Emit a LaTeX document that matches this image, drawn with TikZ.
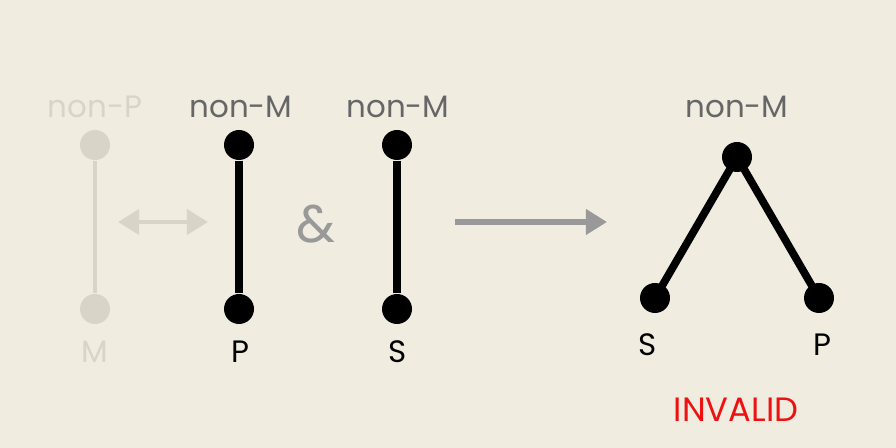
\documentclass[tikz,border=0pt]{standalone}
\usepackage{fontspec}
\setmainfont{Poppins}
\usepackage{tikz}
\definecolor{paper}{HTML}{F0ECE0}
\definecolor{faded}{HTML}{D8D4C8}
\definecolor{gray600}{HTML}{666666}
\definecolor{gray400}{HTML}{999999}
\definecolor{red500}{HTML}{EE1111}
\usetikzlibrary{arrows.meta}
\tikzstyle{vertice}=[circle, draw=none, fill=black, inner sep=0pt, minimum size=3mm]
\tikzstyle{label}=[inner sep=0pt, font=\fontsize{8.8}{11}\selectfont]

\begin{document}
\begin{tikzpicture}
	\path[fill=paper, use as bounding box] (0,0) rectangle (8.96,4.48);
	% faded premise
	\node[vertice, fill=faded] (a1) at (0.95,3.03){};
	\node[vertice, fill=faded] (a2) at (0.95,1.39){};
	\node[label, text=faded] (la1) at (0.95,3.41){non-P};
	\node[label, text=faded] (la2) at (0.95,0.96){M};
	\path[draw=faded, line width=1.4pt] (a1) -- (a2);
	\coordinate (d1) at (1.18,2.26);
	\coordinate (d2) at (2.08,2.26);
	\path[draw=faded, line width=1.4pt, {Triangle[length=6pt,width=7pt]}-{Triangle[length=6pt,width=7pt]}] (d1) -- (d2);
	% premises
	\node[vertice] (b1) at (2.39,3.03){};
	\node[vertice] (b2) at (2.39,1.39){};
	\node[label, text=gray600] (lb1) at (2.41,3.41){non-M};
	\node[label] (lb2) at (2.40,0.96){P};
	\path[draw=black, line width=2pt] (b1) -- (b2);
	\node[inner sep=0pt, text=gray400, font=\fontsize{15}{18}\selectfont] (amp) at (3.16,2.24){\&};
	\node[vertice] (c1) at (3.97,3.03){};
	\node[vertice] (c2) at (3.97,1.39){};
	\node[label, text=gray600] (lc1) at (3.98,3.41){non-M};
	\node[label] (lc2) at (3.98,0.96){S};
	\path[draw=black, line width=2pt] (c1) -- (c2);
	% conclusion
	\coordinate (e1) at (4.55,2.26);
	\coordinate (e2) at (6.07,2.26);
	\path[draw=gray400, line width=1.7pt, -{Triangle[length=6pt,width=7pt]}] (e1) -- (e2);
	\node[vertice] (t) at (7.37,2.91){};
	\node[vertice] (s) at (6.55,1.50){};
	\node[vertice] (p) at (8.19,1.50){};
	\node[label, text=gray600] (lt) at (7.37,3.41){non-M};
	\node[label] (ls) at (6.48,1.03){S};
	\node[label] (lp) at (8.22,1.03){P};
	\node[label, text=red500, font=\fontsize{9.6}{12}\selectfont] (inv) at (7.36,0.38){INVALID};
	\path[draw=black, line width=2.2pt] (s.center) -- (t.center) -- (p.center);
\end{tikzpicture}
\end{document}
